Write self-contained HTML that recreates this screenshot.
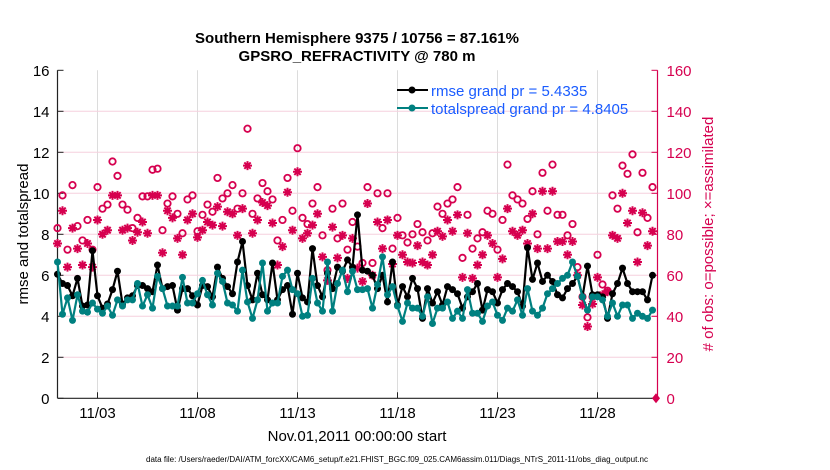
<!DOCTYPE html>
<html><head><meta charset="utf-8"><style>
body{margin:0;background:#fff;}
svg{display:block;font-family:"Liberation Sans",sans-serif;}
</style></head><body>
<svg id="chart" width="830" height="470" viewBox="0 0 830 470" xmlns="http://www.w3.org/2000/svg">
<rect width="830" height="470" fill="#fff"/>
<text x="357" y="43" text-anchor="middle" font-size="15" font-weight="bold">Southern Hemisphere 9375 / 10756 = 87.161%</text>
<text x="357" y="61" text-anchor="middle" font-size="15" font-weight="bold">GPSRO_REFRACTIVITY @ 780 m</text>
<g id="grid"></g>
<g id="axes"></g>
<g id="marks"></g>
<g id="legend">
  <line x1="397" y1="90" x2="428" y2="90" stroke="#000" stroke-width="2"/>
  <circle cx="412" cy="90" r="3.5" fill="#000"/>
  <text x="431" y="96" font-size="15" fill="#1a5cff">rmse grand pr = 5.4335</text>
  <line x1="397" y1="108" x2="428" y2="108" stroke="#008080" stroke-width="2"/>
  <circle cx="412" cy="108" r="3.5" fill="#008080"/>
  <text x="431" y="114" font-size="15" fill="#1a5cff">totalspread grand pr = 4.8405</text>
</g>
<text transform="translate(28,234) rotate(-90)" text-anchor="middle" font-size="15">rmse and totalspread</text>
<text transform="translate(713,234) rotate(-90)" text-anchor="middle" font-size="15" fill="#d6004f"># of obs: o=possible; ×=assimilated</text>
<text x="357" y="441" text-anchor="middle" font-size="15">Nov.01,2011 00:00:00 start</text>
<text x="146" y="462" font-size="8" textLength="502" lengthAdjust="spacingAndGlyphs">data file: /Users/raeder/DAI/ATM_forcXX/CAM6_setup/f.e21.FHIST_BGC.f09_025.CAM6assim.011/Diags_NTrS_2011-11/obs_diag_output.nc</text>
</svg>
<script>
const xTickDays = [2, 7, 12, 17, 22, 27];
const xTickLabels = ["11/03", "11/08", "11/13", "11/18", "11/23", "11/28"];
const yTicks = [0, 2, 4, 6, 8, 10, 12, 14, 16];
const y2Ticks = [0, 20, 40, 60, 80, 100, 120, 140, 160];
const rmse = [6.05,5.6,5.5,5.0,5.85,4.5,4.55,7.2,5.0,4.4,4.6,5.3,6.2,4.6,4.9,5.0,5.5,5.5,5.35,5.2,6.5,5.35,5.45,5.5,4.3,5.35,5.35,5.0,4.55,5.5,
5.45,4.95,6.4,5.85,5.45,5.1,6.65,7.65,5.5,4.8,6.1,5.05,4.8,6.6,4.8,5.3,5.5,4.1,6.1,4.9,4.7,7.3,5.5,4.95,6.1,5.35,6.4,6.2,6.75,6.4,8.95,
6.25,6.2,6.0,5.35,6.0,4.7,6.65,4.55,5.45,4.95,5.85,5.35,3.9,5.35,4.65,5.2,4.55,5.45,5.3,5.1,4.4,4.95,5.2,5.6,4.3,5.3,5.2,4.65,5.3,
5.6,5.45,5.2,4.5,7.35,5.8,6.6,5.7,6.0,5.7,5.05,4.9,5.35,5.6,5.95,4.95,6.45,5.05,5.05,4.95,3.9,5.1,5.6,6.35,5.6,5.2,5.2,5.2,4.8,6.0];
const spread = [6.65,4.1,4.9,3.8,5.05,4.25,4.2,4.65,4.35,4.15,4.5,4.05,4.8,4.5,4.8,4.8,5.6,4.5,5.05,4.4,5.95,5.35,4.5,4.5,4.5,5.9,4.65,4.65,5.1,5.75,
5.05,4.55,6.1,5.7,4.65,4.55,4.25,6.25,4.7,3.9,4.8,6.6,4.25,4.65,4.65,5.95,6.25,5.3,5.1,4.0,4.05,5.85,4.65,4.25,6.65,4.25,5.6,6.25,5.2,6.2,5.3,
5.3,5.35,4.4,5.55,6.9,5.05,5.45,4.5,3.75,4.65,4.4,4.4,4.0,4.95,3.65,4.4,4.4,4.7,3.9,4.25,3.9,5.3,4.15,4.15,3.75,4.5,4.7,4.05,3.8,
4.4,4.25,4.8,4.05,5.35,4.25,4.05,4.4,5.1,5.35,5.6,5.85,6.0,6.65,5.95,4.95,4.3,4.95,4.95,4.8,4.0,4.65,4.0,4.55,4.55,3.9,4.15,4.0,3.9,4.3];
const possible = [83,99,72.5,104,84,77,87,72.5,103,92.5,94.5,115.5,108.5,94.5,92,83,88,98.5,98.5,111.5,112,82,95,98.5,90,80.5,97,99,81.5,89.5,
94.5,91,107.5,97.5,100,104,92.5,100,131.5,90,97.5,105,101,97,77,87,107.5,91.5,122,88,85,95,103,79.5,62.5,92.5,78,95,72.5,86,74,
66,103,66,100,83,100,73,88,79.5,76,80,85,81,77,80.5,93.5,90,95,97,103,68.5,89.5,73,78,81,91.5,90,72.5,87,
114,99,97,95,87.5,101,80,110,91.5,114,89.5,89.5,79.5,85,64,49.5,39.5,49.5,70,55.5,52.5,99,92.5,113.5,109.5,119,81,110,88,103];
const assimilated = [75.5,91.5,64,83,73,65,75.5,64,87,80,82,99,99,82,83,77,81,86,80.5,99,99,71,91.5,88,78,70,87,90,78.5,82,
86,84.5,93.5,84,91,90,79.5,92.5,113.5,80.5,87,95.5,94,85.5,65,74,100.5,82,110.5,78,80.5,84.5,90,69,57.5,83.5,68.5,79.5,58.5,78,63.5,
57,95,60,86,73,87,65.5,79.5,70,66.5,66,74.5,66.5,65,70,81.5,79,87,81.5,89.5,59,80.5,58.5,65,70,79.5,75.5,59,68,
92.5,81.5,79.5,82,75.5,90,73,101,73,101,76.5,76.5,70,76.5,60,45.5,35,46,59,50.5,52,79.5,78,100,85.5,91.5,66.5,90.5,74.5,81.5];
const endPossible = [0];

const NS="http://www.w3.org/2000/svg";
const X0=57.5, X1=657.5, Y0=398.3, Y1=70.3;
function xScale(t){return X0+(t/30)*(X1-X0);}
function yScale(v){return Y0-(v/16)*(Y0-Y1);}
function y2Scale(v){return Y0-(v/160)*(Y0-Y1);}
function tOf(i){return i*0.25;}
function mk(tag,attrs,parent){const e=document.createElementNS(NS,tag);for(const k in attrs)e.setAttribute(k,attrs[k]);parent.appendChild(e);return e;}
const grid=document.getElementById('grid'), axes=document.getElementById('axes'), marks=document.getElementById('marks');

xTickDays.forEach((d,i)=>{
  const x=xScale(d);
  const gl=mk('line',{x1:x,y1:Y1,x2:x,y2:Y0,stroke:'#dcdcdc','stroke-width':1},grid);
  
  
  mk('line',{x1:x,y1:Y0,x2:x,y2:Y0-6,stroke:'#222','stroke-width':1},axes);
  const t=mk('text',{x:x,y:418,'text-anchor':'middle','font-size':15},axes);
  t.textContent=xTickLabels[i];
  
  
});
y2Ticks.forEach(v=>{
  const y=y2Scale(v);
  if(v>0&&v<160){const gl=mk('line',{x1:X0,y1:y,x2:X1,y2:y,stroke:'#f5d0de','stroke-width':1},grid);
  
  }
  mk('line',{x1:X1,y1:y,x2:X1-6,y2:y,stroke:'#d6004f','stroke-width':1},axes);
  const t=mk('text',{x:X1+9,y:y+5.5,'font-size':15,fill:'#d6004f'},axes);
  t.textContent=v;
  
  
});
yTicks.forEach(v=>{
  const y=yScale(v);
  mk('line',{x1:X0,y1:y,x2:X0+6,y2:y,stroke:'#222','stroke-width':1},axes);
  const t=mk('text',{x:X0-8,y:y+5.5,'text-anchor':'end','font-size':15},axes);
  t.textContent=v;
  
  
});
mk('line',{x1:X0,y1:Y1,x2:X0,y2:Y0,stroke:'#222','stroke-width':1.2},axes);
mk('line',{x1:X0,y1:Y0,x2:X1,y2:Y0,stroke:'#222','stroke-width':1.2},axes);
mk('line',{x1:X1,y1:Y1,x2:X1,y2:Y0,stroke:'#d6004f','stroke-width':1.2},axes);

// possible circles
possible.forEach((v,i)=>{
  const c=mk('circle',{cx:xScale(tOf(i)),cy:y2Scale(v),r:3.2,fill:'none',stroke:'#d6004f','stroke-width':1.8},marks);
  
  
});
// assimilated asterisks
assimilated.forEach((v,i)=>{
  const x=xScale(tOf(i)), y=y2Scale(v), r=4.5, d=r*0.707;
  const p=mk('path',{d:`M${x-r},${y}H${x+r}M${x},${y-r}V${y+r}M${x-d},${y-d}L${x+d},${y+d}M${x-d},${y+d}L${x+d},${y-d}`,stroke:'#d6004f','stroke-width':2},marks);
  
  
});
endPossible.forEach(v=>{
  const x=X1-1.5,y=y2Scale(v);
  const p=mk('path',{d:`M${x-4},${y}L${x},${y-5}L${x+4},${y}L${x},${y+5}Z`,fill:'#d6004f'},marks);
  
  
});
function drawLine(arr,color,name){
  const pts=arr.map((v,i)=>xScale(tOf(i)).toFixed(1)+','+yScale(v).toFixed(1)).join(' ');
  const pl=mk('polyline',{points:pts,fill:'none',stroke:color,'stroke-width':2.2,'stroke-linejoin':'round'},marks);
  
  
  arr.forEach((v,i)=>{
    const c=mk('circle',{cx:xScale(tOf(i)),cy:yScale(v),r:3.5,fill:color},marks);
    
    
  });
}
drawLine(rmse,'#000','rmse');
drawLine(spread,'#008080','totalspread');
</script>
</body></html>
